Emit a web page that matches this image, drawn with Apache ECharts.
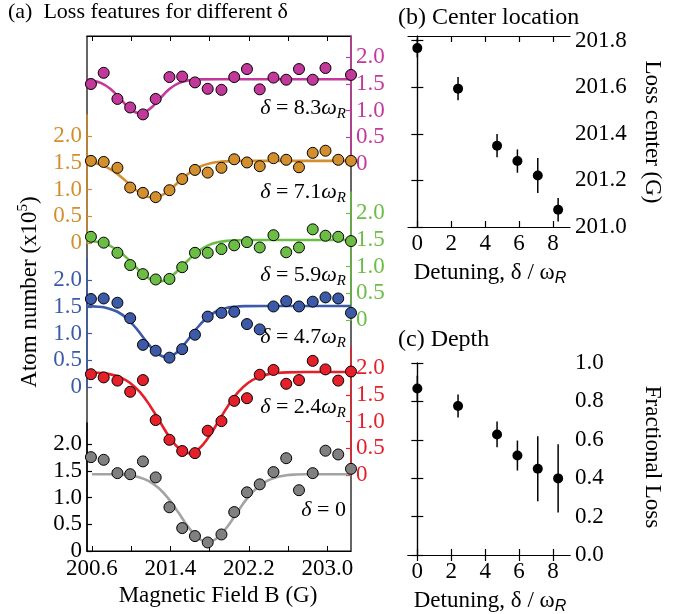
<!DOCTYPE html>
<html><head><meta charset="utf-8">
<script src="https://cdn.jsdelivr.net/npm/echarts@6/dist/echarts.min.js"></script>
<style>html,body{margin:0;padding:0;background:#fff}#c{width:673px;height:614px}</style>
</head><body><div id="c"></div>
<script>
// ---------- Panel (a) data ----------
const fieldB = [200.59, 200.72, 200.86, 200.99, 201.12, 201.25, 201.39, 201.52, 201.65, 201.78, 201.92, 202.05, 202.18, 202.31, 202.45, 202.58, 202.71, 202.85, 202.98, 203.11, 203.24];
const atoms_d83 = [1.50, 1.71, 1.22, 1.06, 0.93, 1.22, 1.63, 1.64, 1.53, 1.41, 1.39, 1.63, 1.78, 1.40, 1.62, 1.58, 1.78, 1.58, 1.80, null, 1.67];
const atoms_d71 = [1.54, 1.52, 1.41, 1.04, 0.94, 0.86, 0.99, 1.20, 1.37, 1.32, 1.41, 1.57, 1.51, 1.44, 1.59, 1.56, 1.42, 1.69, 1.73, 1.56, 1.54];
const atoms_d59 = [1.56, 1.45, 1.26, 1.03, 0.86, 0.76, 0.77, 0.99, 1.26, 1.26, 1.33, 1.40, 1.46, 1.36, 1.59, 1.27, 1.36, 1.70, 1.58, 1.56, 1.48];
const atoms_d47 = [1.65, 1.66, 1.58, 1.29, 0.79, 0.68, 0.55, 0.71, 0.98, 1.32, 1.39, 1.41, 1.18, 1.08, 1.51, 1.61, 1.51, 1.60, 1.68, 1.66, 1.39];
const atoms_d24 = [1.89, 1.83, 1.77, 1.56, 1.78, 1.03, 0.66, 0.45, 0.41, 0.83, 1.01, 1.39, 1.44, 1.88, 1.97, 1.71, 1.78, 2.14, 1.98, 1.77, 1.94];
const atoms_d0  = [1.76, 1.71, 1.46, 1.44, 1.68, 1.38, 0.82, 0.43, 0.28, 0.16, 0.31, 0.73, 1.10, 1.25, 1.48, 1.74, 1.14, 1.46, 1.88, 1.81, 1.54];

// fitted loss curves
const fitX_d83 = [200.55, 200.59, 200.69, 200.79, 200.89, 200.99, 201.09, 201.19, 201.29, 201.39, 201.49, 201.59, 201.69, 201.89, 203.24];
const fitY_d83 = [1.579, 1.570, 1.520, 1.406, 1.222, 1.033, 0.950, 1.033, 1.222, 1.406, 1.520, 1.570, 1.586, 1.590, 1.590];
const fitX_d71 = [200.55, 200.62, 200.72, 200.82, 200.92, 201.02, 201.12, 201.22, 201.32, 201.42, 201.52, 201.62, 201.72, 201.82, 201.92, 202.02, 202.22, 203.24];
const fitY_d71 = [1.521, 1.501, 1.447, 1.348, 1.204, 1.039, 0.903, 0.850, 0.903, 1.039, 1.204, 1.348, 1.447, 1.501, 1.526, 1.536, 1.540, 1.540];
const fitX_d59 = [200.55, 200.58, 200.68, 200.78, 200.88, 200.98, 201.08, 201.18, 201.28, 201.38, 201.48, 201.58, 201.68, 201.78, 201.88, 201.98, 202.08, 202.28, 203.24];
const fitY_d59 = [1.489, 1.485, 1.456, 1.395, 1.283, 1.120, 0.934, 0.780, 0.720, 0.780, 0.934, 1.120, 1.283, 1.395, 1.456, 1.485, 1.495, 1.500, 1.500];
const fitX_d47 = [200.55, 200.66, 200.76, 200.86, 200.96, 201.06, 201.16, 201.26, 201.36, 201.46, 201.56, 201.66, 201.76, 201.86, 201.96, 202.06, 202.16, 202.36, 203.24];
const fitY_d47 = [1.516, 1.506, 1.478, 1.411, 1.281, 1.080, 0.841, 0.640, 0.560, 0.640, 0.841, 1.080, 1.281, 1.411, 1.478, 1.506, 1.516, 1.520, 1.520];
const fitX_d24 = [200.55, 200.59, 200.69, 200.79, 200.89, 200.99, 201.09, 201.19, 201.29, 201.39, 201.49, 201.59, 201.69, 201.79, 201.89, 201.99, 202.09, 202.19, 202.29, 202.39, 202.49, 202.59, 202.79, 203.24];
const fitY_d24 = [1.926, 1.924, 1.913, 1.887, 1.830, 1.725, 1.552, 1.305, 1.007, 0.712, 0.492, 0.410, 0.492, 0.712, 1.007, 1.305, 1.552, 1.725, 1.830, 1.887, 1.913, 1.924, 1.930, 1.930];
const fitX_d0 = [200.60, 200.78, 200.88, 200.98, 201.08, 201.18, 201.28, 201.38, 201.48, 201.58, 201.68, 201.78, 201.88, 201.98, 202.08, 202.18, 202.28, 202.38, 202.48, 202.58, 202.68, 202.78, 202.98, 203.24];
const fitY_d0 = [1.440, 1.438, 1.433, 1.419, 1.384, 1.312, 1.182, 0.983, 0.725, 0.456, 0.249, 0.170, 0.249, 0.456, 0.725, 0.983, 1.182, 1.312, 1.384, 1.419, 1.433, 1.438, 1.440, 1.440];

const bTicks = [200.6, 201.0, 201.4, 201.8, 202.2, 202.6, 203.0];
const bLabels = [200.6, 201.4, 202.2, 203.0];
const atomTicks = [0, 0.5, 1.0, 1.5, 2.0];
const traceLabels = ['8.3', '7.1', '5.9', '4.7', '2.4', '0'];

// ---------- Panels (b),(c) data ----------
const detuning = [0, 2.4, 4.7, 5.9, 7.1, 8.3];
const lossCenter = [201.768, 201.594, 201.349, 201.283, 201.221, 201.074];
const lossCenterErr = [0.04, 0.05, 0.05, 0.05, 0.075, 0.05];
const fracLoss = [0.867, 0.776, 0.628, 0.518, 0.449, 0.399];
const fracLossErr = [0.067, 0.06, 0.067, 0.078, 0.169, 0.178];
const detTicks = [0, 2, 4, 6, 8];
const centerTicks = [201.0, 201.2, 201.4, 201.6, 201.8];
const fracTicks = [0.0, 0.2, 0.4, 0.6, 0.8, 1.0];

const SERIF = 'Liberation Serif';
const FS = 23;

const traces = [
  {vals: atoms_d83, fx: fitX_d83, fy: fitY_d83, color: '#c2399b', line: '#c2399b', axis: '#c2399b', side: 'right', top: 36, lab: 108},
  {vals: atoms_d71, fx: fitX_d71, fy: fitY_d71, color: '#d38e2d', line: '#d38e2d', axis: '#d38e2d', side: 'left',  top: 115, lab: 192},
  {vals: atoms_d59, fx: fitX_d59, fy: fitY_d59, color: '#6cbd45', line: '#6cbd45', axis: '#6cbd45', side: 'right', top: 192, lab: 275},
  {vals: atoms_d47, fx: fitX_d47, fy: fitY_d47, color: '#3c5aa8', line: '#3c5aa8', axis: '#3c5aa8', side: 'left',  top: 259, lab: 337},
  {vals: atoms_d24, fx: fitX_d24, fy: fitY_d24, color: '#e5202a', line: '#e5202a', axis: '#e5202a', side: 'right', top: 347, lab: 407},
  {vals: atoms_d0,  fx: fitX_d0,  fy: fitY_d0,  color: '#808080', line: '#a3a3a3', axis: '#000000', side: 'left',  top: 423, lab: 510}
];

const XMIN = 200.55, XMAX = 203.24;
const grids = [{left: 87, width: 264, top: 36, height: 515, show: true, borderColor: '#000', borderWidth: 1.2, z: 0}];
const xAxes = [
  {gridIndex: 0, type: 'value', position: 'bottom', min: XMIN, max: XMAX,
   axisLine: {show: true, lineStyle: {color: '#000', width: 1.2}},
   axisTick: {show: true, inside: true, length: 5, customValues: bTicks, lineStyle: {color: '#000'}},
   axisLabel: {customValues: bLabels, formatter: v => v.toFixed(1), fontFamily: SERIF, fontSize: FS, color: '#000', margin: 6},
   splitLine: {show: false}},
  {gridIndex: 0, type: 'value', position: 'top', min: XMIN, max: XMAX,
   axisLine: {show: true, lineStyle: {color: '#000', width: 1.2}},
   axisTick: {show: true, inside: true, length: 5, customValues: bTicks, lineStyle: {color: '#000'}},
   axisLabel: {show: false}, splitLine: {show: false}}
];
const yAxes = [{gridIndex: 0, type: 'value', min: 0, max: 1, show: false}];
const series = [];
const graphics = [];

traces.forEach((t, k) => {
  grids.push({left: 87, width: 264, top: t.top, height: 128});
  xAxes.push({gridIndex: k + 1, type: 'value', min: XMIN, max: XMAX, show: false});
  yAxes.push({gridIndex: k + 1, type: 'value', position: t.side, min: 0, max: 2.4, z: 3,
    axisLine: {show: true, lineStyle: {color: t.axis, width: 1.5}},
    axisTick: {show: true, inside: true, length: 5, customValues: atomTicks, lineStyle: {color: t.axis, width: 1.2}},
    axisLabel: {customValues: atomTicks, formatter: v => v === 0 ? '0' : v.toFixed(1), fontFamily: SERIF, fontSize: FS, color: t.axis === '#000000' ? '#000' : t.axis, margin: 5},
    splitLine: {show: false}});
  const pts = [];
  fieldB.forEach((b, i) => { if (t.vals[i] !== null) pts.push([b, t.vals[i]]); });
  series.push({type: 'line', xAxisIndex: k + 2, yAxisIndex: k + 1, data: t.fx.map((x, i) => [x, t.fy[i]]),
    showSymbol: false, smooth: 0.4, lineStyle: {color: t.line, width: 2.6}, z: 3, silent: true, clip: false});
  series.push({type: 'scatter', xAxisIndex: k + 2, yAxisIndex: k + 1, data: pts, symbolSize: 11,
    itemStyle: {color: t.color, borderColor: '#000', borderWidth: 1, opacity: 1}, z: 5, clip: false, silent: true});
  graphics.push({type: 'text', x: 346, y: t.lab, z: 10, style: {
    text: '{m|δ}{n| = ' + traceLabels[k] + (traceLabels[k] === '0' ? '}' : '}{m|ω}{s|R}'),
    align: 'right', verticalAlign: 'middle',
    rich: {
      m: {fontFamily: SERIF, fontStyle: 'italic', fontSize: 22, fill: '#000', lineHeight: 27},
      n: {fontFamily: SERIF, fontSize: 22, fill: '#000', lineHeight: 27},
      s: {fontFamily: SERIF, fontStyle: 'italic', fontSize: 15, fill: '#000', verticalAlign: 'bottom', lineHeight: 20}
    }}});
});

// panels (b) and (c)
function rightPanel(gi, top, height, ymin, ymax, yTicks) {
  grids.push({left: 408, width: 162, top: top, height: height});
  const xi = xAxes.length, yi = yAxes.length;
  const tick = {show: true, inside: true, length: 6, lineStyle: {color: '#000', width: 1.2}};
  xAxes.push({gridIndex: gi, type: 'value', position: 'bottom', min: -0.55, max: 9.0,
    axisLine: {show: true, lineStyle: {color: '#000', width: 1.2}},
    axisTick: Object.assign({customValues: detTicks}, tick),
    axisLabel: {customValues: detTicks, formatter: v => String(v), fontFamily: SERIF, fontSize: FS, color: '#000', margin: 5},
    splitLine: {show: false}});
  xAxes.push({gridIndex: gi, type: 'value', position: 'top', min: -0.55, max: 9.0,
    axisLine: {show: true, lineStyle: {color: '#000', width: 1.2}},
    axisTick: Object.assign({customValues: detTicks}, tick), axisLabel: {show: false}, splitLine: {show: false}});
  yAxes.push({gridIndex: gi, type: 'value', position: 'right', min: ymin, max: ymax,
    axisLine: {show: true, lineStyle: {color: '#000', width: 1.2}},
    axisTick: Object.assign({customValues: yTicks}, tick),
    axisLabel: {customValues: yTicks, formatter: v => v.toFixed(1), fontFamily: SERIF, fontSize: FS, color: '#000', margin: 5},
    splitLine: {show: false}});
  yAxes.push({gridIndex: gi, type: 'value', position: 'left', min: ymin, max: ymax,
    axisLine: {show: true, lineStyle: {color: '#000', width: 1.2}},
    axisTick: Object.assign({customValues: yTicks}, tick), axisLabel: {show: false}, splitLine: {show: false}});
  return [xi, yi];
}
const [bx, by] = rightPanel(7, 36, 191, 201.0, 201.82, centerTicks);
const [cx, cy] = rightPanel(8, 363, 192, 0, 1, fracTicks);

function errBars(xi, yi, ys, es) {
  return {type: 'custom', xAxisIndex: xi, yAxisIndex: yi, silent: true, z: 4,
    data: detuning.map((d, i) => [d, ys[i], es[i]]),
    renderItem: (params, api) => {
      const x = api.value(0), y = api.value(1), e = api.value(2);
      const p1 = api.coord([x, y - e]), p2 = api.coord([x, y + e]);
      return {type: 'line', shape: {x1: p1[0], y1: p1[1], x2: p2[0], y2: p2[1]}, style: {stroke: '#000', lineWidth: 1.5}};
    }};
}
series.push(errBars(bx, by, lossCenter, lossCenterErr));
series.push({type: 'scatter', xAxisIndex: bx, yAxisIndex: by, data: detuning.map((d, i) => [d, lossCenter[i]]),
  symbolSize: 10, itemStyle: {color: '#000', opacity: 1}, z: 5, silent: true, clip: false});
series.push(errBars(cx, cy, fracLoss, fracLossErr));
series.push({type: 'scatter', xAxisIndex: cx, yAxisIndex: cy, data: detuning.map((d, i) => [d, fracLoss[i]]),
  symbolSize: 10, itemStyle: {color: '#000', opacity: 1}, z: 5, silent: true, clip: false});

// titles
const txt = (x, y, text, size, opts) => Object.assign({type: 'text', x: x, y: y, z: 10,
  style: {text: text, fontFamily: SERIF, fontSize: size, fill: '#000', align: 'left', verticalAlign: 'middle'}}, opts || {});
graphics.push(txt(8, 12, '(a)  Loss features for different δ', 22));
graphics.push(txt(398, 18, '(b) Center location', 24));
graphics.push(txt(398, 340, '(c) Depth', 24));
graphics.push({type: 'text', x: 218, y: 596, z: 10, style: {text: 'Magnetic Field B (G)', fontFamily: SERIF, fontSize: FS, fill: '#000', align: 'center', verticalAlign: 'middle'}});
graphics.push({type: 'text', x: 30, y: 292, rotation: Math.PI / 2, z: 10, style: {
  text: '{a|Atom number (x10}{b|5}{a|)}', align: 'center', verticalAlign: 'middle',
  rich: {a: {fontFamily: SERIF, fontSize: FS, fill: '#000', lineHeight: 28}, b: {fontFamily: SERIF, fontSize: 15, fill: '#000', verticalAlign: 'top', lineHeight: 16}}}});
graphics.push({type: 'text', x: 652, y: 132, rotation: -Math.PI / 2, z: 10, style: {text: 'Loss center (G)', fontFamily: SERIF, fontSize: FS, fill: '#000', align: 'center', verticalAlign: 'middle'}});
graphics.push({type: 'text', x: 652, y: 457, rotation: -Math.PI / 2, z: 10, style: {text: 'Fractional Loss', fontFamily: SERIF, fontSize: FS, fill: '#000', align: 'center', verticalAlign: 'middle'}});
[273, 601].forEach(yy => {
  graphics.push({type: 'text', x: 490, y: yy, z: 10, style: {
    text: '{a|Detuning, δ / ω}{s|R}', align: 'center', verticalAlign: 'middle',
    rich: {a: {fontFamily: SERIF, fontSize: FS, fill: '#000', lineHeight: 28},
           s: {fontFamily: 'Liberation Sans', fontStyle: 'italic', fontSize: 16, fill: '#000', verticalAlign: 'bottom', lineHeight: 22}}}});
});

const chart = echarts.init(document.getElementById('c'), null, {renderer: 'canvas'});
chart.setOption({
  animation: false,
  backgroundColor: '#fff',
  grid: grids,
  xAxis: xAxes,
  yAxis: yAxes,
  series: series,
  graphic: graphics
});
</script>
</body></html>
